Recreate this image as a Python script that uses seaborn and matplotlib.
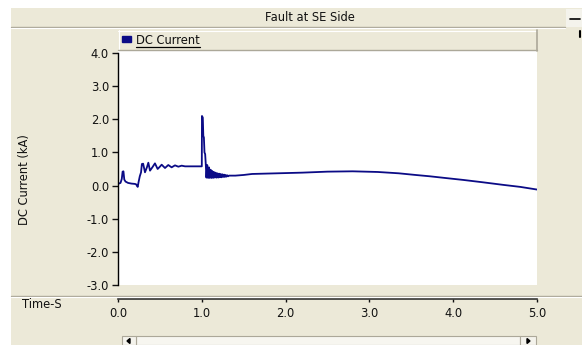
import numpy as np
import pandas as pd
import seaborn as sns
import matplotlib.pyplot as plt
from matplotlib.patches import Rectangle, Polygon, Patch
from matplotlib.lines import Line2D

# ---------------- data ----------------
title = "Fault at SE Side"
series_name = "DC Current"
y_label = "DC Current (kA)"
x_label = "Time-S"
x_ticks = [0.0, 1.0, 2.0, 3.0, 4.0, 5.0]
y_ticks = [-3.0, -2.0, -1.0, 0.0, 1.0, 2.0, 3.0, 4.0]

# pre-fault start-up
time_pre = [0.00, 0.03, 0.045, 0.055, 0.065, 0.075, 0.09, 0.12, 0.16, 0.20,
            0.215, 0.225, 0.235, 0.245, 0.26, 0.275, 0.285, 0.30, 0.322, 0.345,
            0.362, 0.382, 0.41, 0.441, 0.473, 0.50, 0.521, 0.561, 0.60, 0.64,
            0.68, 0.72, 0.76, 0.80, 0.90, 1.00]
curr_pre = [0.05, 0.08, 0.20, 0.42, 0.43, 0.18, 0.12, 0.08, 0.06, 0.05,
            0.04, 0.00, -0.04, 0.10, 0.28, 0.40, 0.65, 0.66, 0.40, 0.55,
            0.69, 0.45, 0.55, 0.67, 0.50, 0.57, 0.63, 0.53, 0.62, 0.55,
            0.61, 0.57, 0.60, 0.58, 0.58, 0.58]
# fault spike and oscillating decay
time_fault = [1.002, 1.012, 1.018, 1.025, 1.032, 1.040, 1.048,
              1.055, 1.065, 1.075, 1.085, 1.095, 1.105, 1.115, 1.125, 1.135,
              1.145, 1.155, 1.165, 1.175, 1.185, 1.195, 1.205, 1.215, 1.225,
              1.235, 1.245, 1.255, 1.265, 1.275, 1.285, 1.295, 1.305, 1.315,
              1.325]
curr_fault = [2.10, 2.05, 1.50, 1.45, 1.00, 0.95, 0.62,
              0.24, 0.62, 0.23, 0.55, 0.23, 0.48, 0.23, 0.44, 0.23,
              0.41, 0.24, 0.39, 0.24, 0.37, 0.24, 0.36, 0.25, 0.35,
              0.25, 0.34, 0.26, 0.33, 0.26, 0.32, 0.27, 0.31, 0.28,
              0.30]
# post-fault recovery
time_post = [1.40, 1.50, 1.60, 1.90, 2.20, 2.50, 2.80, 3.10, 3.35, 3.55,
             3.72, 3.90, 4.12, 4.35, 4.60, 4.80, 5.00]
curr_post = [0.30, 0.32, 0.35, 0.37, 0.39, 0.42, 0.43, 0.41, 0.37, 0.32,
             0.28, 0.23, 0.17, 0.10, 0.02, -0.04, -0.12]

df = pd.DataFrame({
    "t": time_pre + time_fault + time_post,
    "i": curr_pre + curr_fault + curr_post,
})

# ---------------- styling ----------------
sns.set_theme(style="white")
plt.rcParams['font.family'] = ['DejaVu Sans']

BEIGE = '#ECE9D8'
GRAY = '#ACA899'
NAVY = '#0B0B86'
FS = 8.3

W, H = 582, 345
fig = plt.figure(figsize=(W / 100, H / 100), dpi=100)
fig.patch.set_facecolor(BEIGE)


def fx(px):
    return px / W


def fy(py):
    return 1 - py / H


def frect(x0, y0, x1, y1, **kw):
    r = Rectangle((fx(x0), fy(y1)), fx(x1) - fx(x0), fy(y0) - fy(y1),
                  transform=fig.transFigure, **kw)
    fig.add_artist(r)
    return r


def fline(xs, ys, **kw):
    fig.add_artist(Line2D([fx(x) for x in xs], [fy(y) for y in ys],
                          transform=fig.transFigure, **kw))


# white frame strips (top and left)
frect(0, 0, W, 8, facecolor='white', edgecolor='none')
frect(0, 0, 11, H, facecolor='white', edgecolor='none')

# title bar
fig.text(fx(310), fy(17.5), title, ha='center', va='center', fontsize=FS, color='#111111')
fline([11, 565], [27, 27], color=GRAY, lw=1)
fline([11, 565], [28, 28], color='white', lw=0.8)
frect(566, 9, 582, 27, facecolor='#F4F3EC', edgecolor='none')
fline([570, 580], [18.5, 18.5], color='black', lw=1.2)
fline([580, 580], [31, 37], color='black', lw=1.5)

# legend bar
frect(118, 30, 537, 50, facecolor=BEIGE, edgecolor='none')
fline([118, 537], [30.5, 30.5], color='white', lw=0.8)
fline([118.5, 118.5], [30, 50], color='white', lw=0.8)
fline([536.5, 536.5], [30, 51], color=GRAY, lw=1.2)
fline([118, 537], [50, 50], color=GRAY, lw=1)

# main axes
ax = fig.add_axes([fx(118), fy(285), fx(537) - fx(118), fy(51) - fy(285)])
ax.set_facecolor('white')
sns.lineplot(data=df, x="t", y="i", ax=ax, color=NAVY, linewidth=1.3,
             sort=False, estimator=None, legend=False)
ax.set_xlim(0, 5)
ax.set_ylim(-3, 4.06)
ax.set_xticks(x_ticks)
ax.set_xticklabels([f"{v:.1f}" for v in x_ticks])
ax.set_yticks(y_ticks)
ax.set_yticklabels([f"{v:.1f}" for v in y_ticks])
ax.set_xlabel("")
ax.set_ylabel("")
for s in ['top', 'right']:
    ax.spines[s].set_visible(False)
ax.spines['left'].set_color('black')
ax.spines['left'].set_linewidth(1.0)
ax.spines['left'].set_bounds(-3, 4)
ax.spines['bottom'].set_color('#333333')
ax.spines['bottom'].set_linewidth(1.2)
ax.spines['bottom'].set_position(('outward', 14 * 0.72))
ax.tick_params(axis='y', direction='out', length=4.5, width=1, pad=2,
               labelsize=FS, colors='#111111', left=True)
ax.tick_params(axis='x', direction='out', length=2.5, width=1, pad=3,
               labelsize=FS, colors='#111111', bottom=True)

# y label and x label
fig.text(fx(25), fy(180), y_label, rotation=90, ha='center', va='center',
         fontsize=FS, color='#111111')
fig.text(fx(22), fy(304), x_label, ha='left', va='center', fontsize=FS, color='#111111')

# separator between plot and time axis strip
fline([11, W], [296, 296], color=GRAY, lw=1)
fline([11, W], [297, 297], color='white', lw=0.8)

# legend inside the bar
leg = fig.legend(handles=[Patch(facecolor=NAVY, edgecolor=NAVY)], labels=[series_name],
                 loc='center left', bbox_to_anchor=(fx(122), fy(40)), frameon=False,
                 handlelength=0.75, handleheight=0.45, handletextpad=0.45,
                 borderaxespad=0, borderpad=0, fontsize=FS)
for t in leg.get_texts():
    t.set_color('#111111')
fig.canvas.draw()
bb = leg.get_texts()[0].get_window_extent()
fig.add_artist(Line2D([bb.x0 / W, bb.x1 / W], [(bb.y0 - 0.5) / H, (bb.y0 - 0.5) / H],
                      transform=fig.transFigure, color='black', lw=0.9))

# scrollbar
frect(136, 336, 520, H, facecolor='#F7F6F0', edgecolor=GRAY, lw=0.8)
frect(122, 336, 136, H, facecolor='#F4F3EC', edgecolor=GRAY, lw=0.8)
frect(520, 336, 536, H, facecolor='#F4F3EC', edgecolor=GRAY, lw=0.8)
fig.add_artist(Polygon([(fx(127), fy(341)), (fx(130), fy(338.5)), (fx(130), fy(343.5))],
                       closed=True, transform=fig.transFigure, color='black'))
fig.add_artist(Polygon([(fx(530), fy(341)), (fx(527), fy(338.5)), (fx(527), fy(343.5))],
                       closed=True, transform=fig.transFigure, color='black'))

fig.savefig('out.png', dpi=100, facecolor=fig.get_facecolor())
